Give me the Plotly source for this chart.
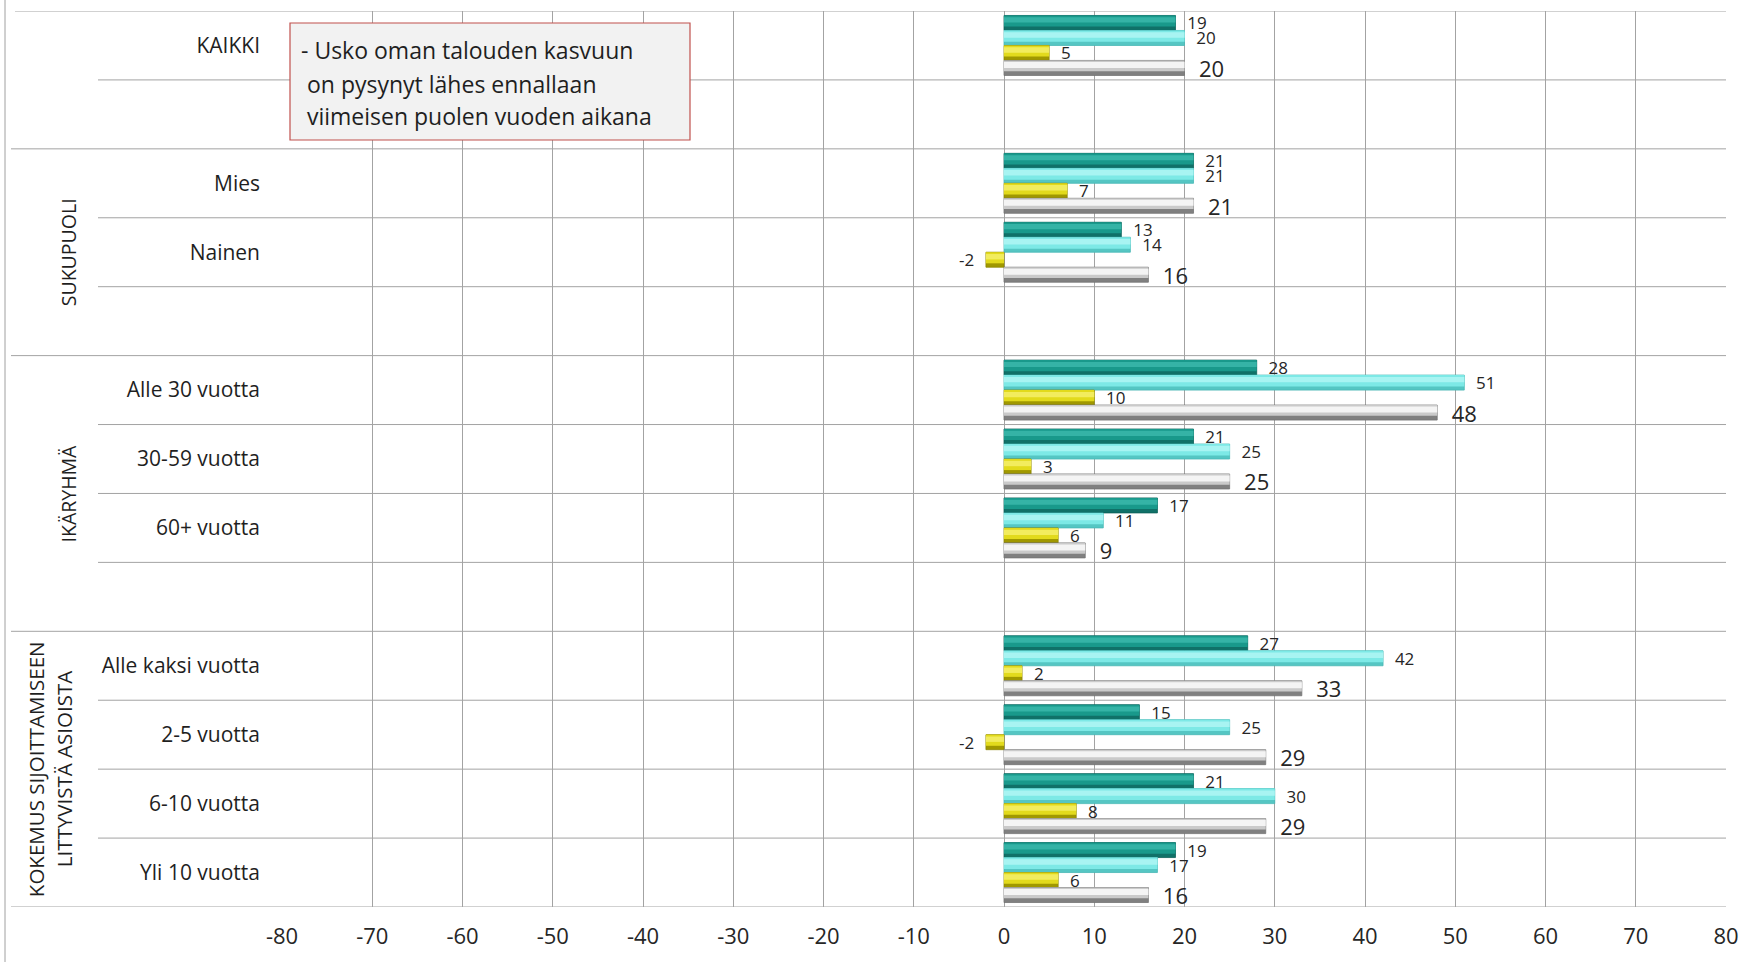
import plotly.graph_objects as go

# ---------------- data ----------------
categories = ["KAIKKI", "", "Mies", "Nainen", "", "Alle 30 vuotta", "30-59 vuotta",
              "60+ vuotta", "", "Alle kaksi vuotta", "2-5 vuotta", "6-10 vuotta", "Yli 10 vuotta"]
series_teal = [19, None, 21, 13, None, 28, 21, 17, None, 27, 15, 21, 19]
series_cyan = [20, None, 21, 14, None, 51, 25, 11, None, 42, 25, 30, 17]
series_yellow = [5, None, 7, -2, None, 10, 3, 6, None, 2, -2, 8, 6]
series_gray = [20, None, 21, 16, None, 48, 25, 9, None, 33, 29, 29, 16]
x_ticks = list(range(-80, 81, 10))
group_labels = ["SUKUPUOLI", "IKÄRYHMÄ"]
group_label3 = ["KOKEMUS SIJOITTAMISEEN", "LITTYVISTÄ ASIOISTA"]
box_lines = ["- Usko oman talouden kasvuun", "\u00a0on pysynyt lähes ennallaan",
             "\u00a0viimeisen puolen vuoden aikana"]

# ---------------- layout geometry (pixels) ----------------
W, H = 1748, 962
L, R, T, B = 282, 22, 11, 55
PW, PH = W - L - R, H - T - B


def px(xp):
    return (xp - L) / PW


def py(yp):
    return (H - B - yp) / PH


FONT = "Open Sans, DejaVu Sans, sans-serif"
pos = list(range(len(categories)))


def labels(vals, pad="\u00a0\u00a0"):
    out = []
    for v in vals:
        if v is None:
            out.append("")
        elif v < 0:
            out.append(f"{v}{pad}")
        else:
            out.append(f"{pad}{v}")
    return out


# (values, layers [(top_frac, bottom_frac, colour)], outline, label size)
specs = [
    (series_teal, [(0, 1, "#107168"), (0, 0.74, "#19998B"), (0.12, 0.46, "#35B3A6")], "#0C6058", 17),
    (series_cyan, [(0, 1, "#55C6C3"), (0, 0.76, "#7DE9E6"), (0.12, 0.48, "#A8F4F2")], "#48B8B5", 17),
    (series_yellow, [(0, 1, "#A09800"), (0, 0.74, "#E2DA1C"), (0.12, 0.48, "#F2EC5E")], "#8E8700", 17),
    (series_gray, [(0, 1, "#808080"), (0, 0.72, "#CACACA"), (0.1, 0.5, "#F4F4F4")], "#747474", 22),
]

band = 0.87
w = band / len(specs)

fig = go.Figure()
for i, (vals, layers, lc, fs) in enumerate(specs):
    base_off = -band / 2 + i * w
    for j, (f0, f1, col) in enumerate(layers):
        first = j == 0
        fig.add_trace(go.Bar(
            y=pos, x=vals, orientation="h",
            offset=base_off + f0 * w, width=(f1 - f0) * w,
            marker=dict(color=col, line=dict(color=lc, width=0.8 if first else 0)),
            text=labels(vals) if first else None,
            textposition="outside" if first else "none",
            constraintext="none",
            textfont=dict(family=FONT, size=fs, color="#262626"),
            cliponaxis=False, showlegend=False, hoverinfo="skip",
        ))

shapes = []
grid = "#A3A3A3"
long_b = {-0.5, 1.5, 4.5, 8.5, 12.5}
for k in range(len(categories) + 1):
    b = k - 0.5
    x0 = px(15) if b == -0.5 else (px(11) if b in long_b else px(98))
    shapes.append(dict(type="line", xref="paper", yref="y", x0=x0, x1=1, y0=b, y1=b,
                       line=dict(color=grid, width=1), layer="below"))
# outer left border
shapes.append(dict(type="line", xref="paper", yref="paper", x0=px(5), x1=px(5), y0=py(0), y1=py(H),
                   line=dict(color="#A0A0A0", width=1)))
# text box
shapes.append(dict(type="rect", xref="paper", yref="paper", x0=px(290), x1=px(690), y0=py(140), y1=py(23),
                   line=dict(color="#C0504D", width=1.2), fillcolor="#F2F2F2", layer="above"))

annotations = []
for line, yy in zip(box_lines, [50, 84, 116]):
    annotations.append(dict(text=line, xref="paper", yref="paper", x=px(299), y=py(yy),
                            xanchor="left", yanchor="middle", showarrow=False,
                            font=dict(family=FONT, size=23, color="#1F1F1F")))
for lab, yc in zip(group_labels, [3, 6.5]):
    annotations.append(dict(text=lab, xref="paper", yref="y", x=px(68), y=yc, textangle=-90,
                            xanchor="center", yanchor="middle", showarrow=False,
                            font=dict(family=FONT, size=19.5, color="#1F1F1F")))
for lab, xx in zip(group_label3, [36, 64]):
    annotations.append(dict(text=lab, xref="paper", yref="y", x=px(xx), y=10.5, textangle=-90,
                            xanchor="center", yanchor="middle", showarrow=False,
                            font=dict(family=FONT, size=20.5, color="#1F1F1F")))

fig.update_layout(
    width=W, height=H,
    margin=dict(l=L, r=R, t=T, b=B, autoexpand=False),
    paper_bgcolor="white", plot_bgcolor="white",
    barmode="overlay",
    shapes=shapes, annotations=annotations,
    font=dict(family=FONT, color="#1F1F1F"),
    xaxis=dict(range=[-80, 80], tickvals=x_ticks, ticktext=[str(v) for v in x_ticks],
               showgrid=True, gridcolor=grid, gridwidth=1, zeroline=False,
               showline=False, ticks="", ticklabelstandoff=14,
               tickfont=dict(family=FONT, size=22, color="#262626")),
    yaxis=dict(range=[len(categories) - 0.5, -0.5], tickvals=pos, ticktext=categories,
               showgrid=False, zeroline=False, showline=False, ticks="",
               ticklabelstandoff=21,
               tickfont=dict(family=FONT, size=21, color="#1F1F1F")),
)

fig.write_html("out.html", config={"displayModeBar": False},
               post_script="document.body.style.margin='0px';document.body.style.padding='0px';")
